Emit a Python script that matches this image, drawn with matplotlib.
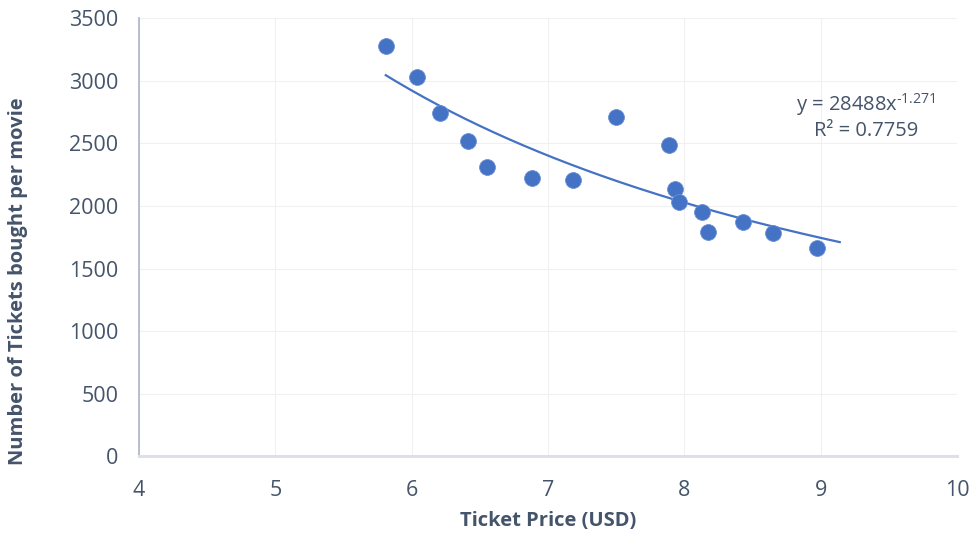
import numpy as np
import matplotlib
matplotlib.use("Agg")
import matplotlib.pyplot as plt

# Billettpris (USD) og antall solgte billetter per film
pris = [5.81, 6.04, 6.21, 6.41, 6.55, 6.88, 7.18, 7.50, 7.89, 7.93, 7.96, 8.13, 8.17, 8.43, 8.65, 8.97]
billetter = [3279, 3027, 2739, 2521, 2313, 2225, 2207, 2710, 2486, 2135, 2034, 1949, 1794, 1869, 1781, 1667]

# Potensfunksjon fra trendlinjen: y = a * x^b
a = 28488
b = -1.271
r2 = 0.7759
trend_slutt = 9.14

tekstfarge = "#44546a"
blaa = "#4472c4"

plt.rcParams["font.family"] = ["Open Sans", "DejaVu Sans"]
plt.rcParams["mathtext.fontset"] = "custom"
plt.rcParams["mathtext.rm"] = "Open Sans"
plt.rcParams["mathtext.it"] = "Open Sans"

fig = plt.figure(figsize=(9.72, 5.38), dpi=100)
ax = fig.add_axes([0.143, 0.1515, 0.8416, 0.815])

ax.scatter(pris, billetter, s=130, color=blaa, edgecolor="#6a8fd4", linewidth=0.6, zorder=3)

xs = np.linspace(min(pris), trend_slutt, 200)
ax.plot(xs, a * xs ** b, color=blaa, linewidth=1.6, zorder=2)

ax.set_xlim(4, 10)
ax.set_ylim(0, 3500)
ax.set_xticks(range(4, 11))
ax.set_yticks(range(0, 3501, 500))
ax.grid(True, color="#f0f0f0", linewidth=0.8)
ax.set_axisbelow(True)

for side in ["top", "right"]:
    ax.spines[side].set_visible(False)
ax.spines["left"].set_color("#aab4c8")
ax.spines["left"].set_linewidth(1.2)
ax.spines["bottom"].set_color("#dde0e6")
ax.spines["bottom"].set_linewidth(2.2)

ax.tick_params(length=0, labelsize=15.5, labelcolor=tekstfarge)
ax.tick_params(axis="x", pad=17)
ax.tick_params(axis="y", pad=15)

ax.set_xlabel("Ticket Price (USD)", fontsize=14.5, fontweight="bold", color=tekstfarge, labelpad=7)
ax.set_ylabel("Number of Tickets bought per movie", fontsize=14.5, fontweight="bold", color=tekstfarge)
ax.yaxis.set_label_coords(-0.136, 0.40)

eksponent = f"{b}".replace("-", r"\text{-}")
ax.text(9.33, 2810, f"y = {a}x$^{{{eksponent}}}$", fontsize=14.5, color=tekstfarge,
        ha="center", va="center")
ax.text(9.33, 2595, f"R² = {r2}", fontsize=14.5, color=tekstfarge, ha="center", va="center")

fig.savefig("out.png", dpi=100)
